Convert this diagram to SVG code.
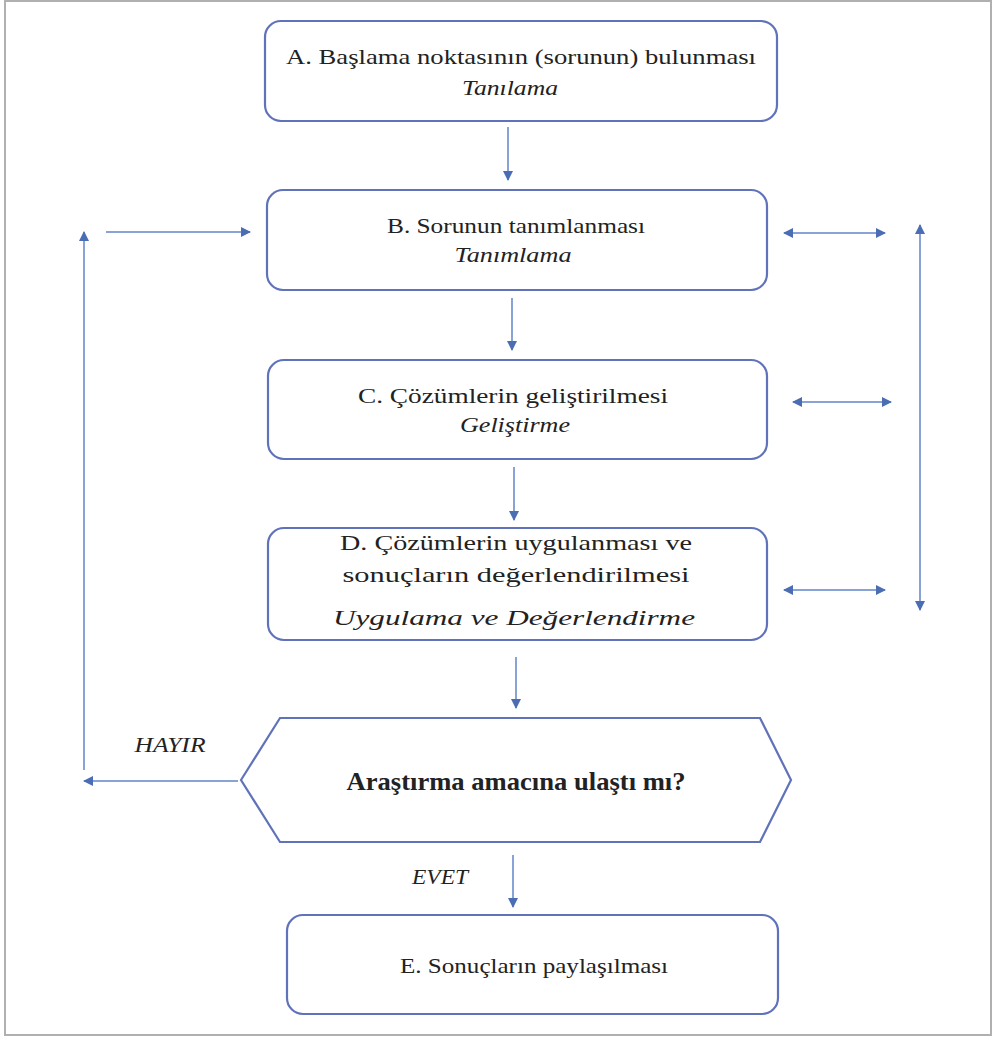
<svg xmlns="http://www.w3.org/2000/svg" width="995" height="1038" viewBox="0 0 995 1038">
<style>
.box{fill:#fff;stroke:#6073ba;stroke-width:2.2}
.t{font-family:"Liberation Serif","Times New Roman",serif;font-size:22px;fill:#222;text-anchor:middle}
.i{font-style:italic}
.b{font-weight:bold;font-size:25px}
.c{stroke:#8aa3d6;stroke-width:2;fill:none}
</style>
<defs>
<marker id="ah" viewBox="0 0 10 10" refX="9" refY="5" markerWidth="5" markerHeight="5" orient="auto-start-reverse" markerUnits="strokeWidth">
<path d="M0,0 L10,5 L0,10 z" fill="#4a6db3"/>
</marker>
</defs>
<rect x="5" y="1" width="986" height="1034" fill="#fff" stroke="#b0b0b0" stroke-width="2"/>
<g id="connectors">
<line class="c" x1="508" y1="127" x2="508" y2="180" marker-end="url(#ah)"/>
<line class="c" x1="512" y1="298" x2="512" y2="350" marker-end="url(#ah)"/>
<line class="c" x1="514" y1="467" x2="514" y2="520" marker-end="url(#ah)"/>
<line class="c" x1="516" y1="657" x2="516" y2="708" marker-end="url(#ah)"/>
<line class="c" x1="513" y1="855" x2="513" y2="907" marker-end="url(#ah)"/>
<line class="c" x1="238" y1="781" x2="84" y2="781" marker-end="url(#ah)"/>
<line class="c" x1="84" y1="770" x2="84" y2="232" marker-end="url(#ah)"/>
<line class="c" x1="106" y1="232" x2="250" y2="232" marker-end="url(#ah)"/>
<line class="c" x1="784" y1="233" x2="885" y2="233" marker-start="url(#ah)" marker-end="url(#ah)"/>
<line class="c" x1="793" y1="402" x2="891" y2="402" marker-start="url(#ah)" marker-end="url(#ah)"/>
<line class="c" x1="784" y1="590" x2="885" y2="590" marker-start="url(#ah)" marker-end="url(#ah)"/>
<line class="c" x1="920" y1="225" x2="920" y2="610" marker-start="url(#ah)" marker-end="url(#ah)"/>
</g>
<g id="nodeA">
<rect class="box" x="265" y="21" width="512" height="100" rx="16"/>
<text class="t" x="521" y="64" textLength="470" lengthAdjust="spacingAndGlyphs">A. Başlama noktasının (sorunun) bulunması</text>
<text class="t i" x="510" y="95" textLength="96" lengthAdjust="spacingAndGlyphs">Tanılama</text>
</g>
<g id="nodeB">
<rect class="box" x="267" y="190" width="500" height="100" rx="16"/>
<text class="t" x="516" y="233" textLength="258" lengthAdjust="spacingAndGlyphs">B. Sorunun tanımlanması</text>
<text class="t i" x="513" y="262" textLength="117" lengthAdjust="spacingAndGlyphs">Tanımlama</text>
</g>
<g id="nodeC">
<rect class="box" x="268" y="360" width="499" height="99" rx="16"/>
<text class="t" x="513" y="403" textLength="310" lengthAdjust="spacingAndGlyphs">C. Çözümlerin geliştirilmesi</text>
<text class="t i" x="515" y="432" textLength="110" lengthAdjust="spacingAndGlyphs">Geliştirme</text>
</g>
<g id="nodeD">
<rect class="box" x="268" y="528" width="499" height="112" rx="16"/>
<text class="t" x="516" y="550" textLength="352" lengthAdjust="spacingAndGlyphs">D. Çözümlerin uygulanması ve</text>
<text class="t" x="516" y="582" textLength="347" lengthAdjust="spacingAndGlyphs">sonuçların değerlendirilmesi</text>
<text class="t i" x="514" y="625" textLength="362" lengthAdjust="spacingAndGlyphs">Uygulama ve Değerlendirme</text>
</g>
<g id="nodeDecision">
<polygon class="box" points="241,780 280,718 760,718 791,780 760,842 280,842"/>
<text class="t b" x="516" y="790" textLength="339" lengthAdjust="spacingAndGlyphs">Araştırma amacına ulaştı mı?</text>
</g>
<g id="nodeE">
<rect class="box" x="287" y="915" width="491" height="99" rx="16"/>
<text class="t" x="534" y="973" textLength="268" lengthAdjust="spacingAndGlyphs">E. Sonuçların paylaşılması</text>
</g>
<text class="t i" x="170" y="752" textLength="71" lengthAdjust="spacingAndGlyphs">HAYIR</text>
<text class="t i" x="440" y="884" textLength="56" lengthAdjust="spacingAndGlyphs">EVET</text>
</svg>
